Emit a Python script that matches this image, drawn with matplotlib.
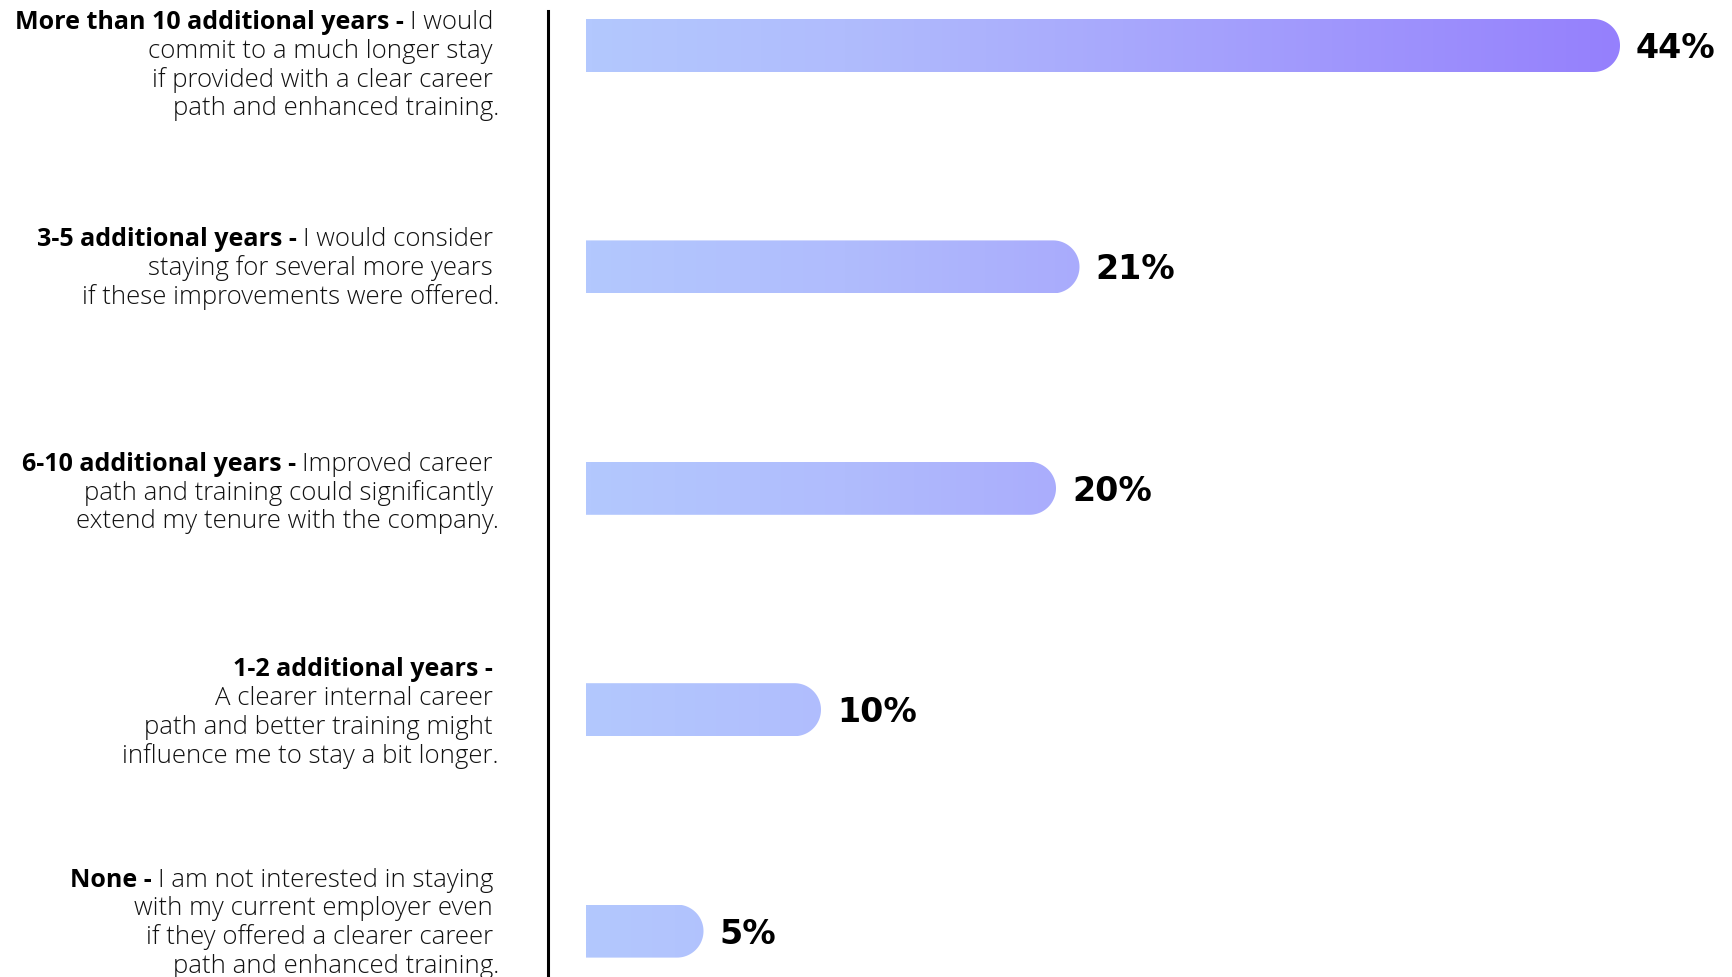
import numpy as np
import matplotlib
matplotlib.use("Agg")
import matplotlib.pyplot as plt
from matplotlib.path import Path
from matplotlib.patches import PathPatch
from matplotlib.colors import LinearSegmentedColormap
from matplotlib import transforms as mtrans

# ---------------- data ----------------
bold_heads = [
    "More than 10 additional years -",
    "3-5 additional years -",
    "6-10 additional years -",
    "1-2 additional years -",
    "None -",
]
first_line_rest = [
    "I would",
    "I would consider",
    "Improved career",
    "",
    "I am not interested in staying",
]
body_lines = [
    ["commit to a much longer stay", "if provided with a clear career", "path and enhanced training."],
    ["staying for several more years", "if these improvements were offered."],
    ["path and training could significantly", "extend my tenure with the company."],
    ["A clearer internal career", "path and better training might", "influence me to stay a bit longer."],
    ["with my current employer even", "if they offered a clearer career", "path and enhanced training."],
]
values = [44, 21, 20, 10, 5]
value_labels = ["44%", "21%", "20%", "10%", "5%"]

# ---------------- layout ----------------
W, H = 1733, 977
fig = plt.figure(figsize=(W / 100, H / 100), dpi=100)
fig.patch.set_facecolor("white")

ax_left_px = 548
top_px = 11
ax = fig.add_axes([ax_left_px / W, 0, (W - ax_left_px) / W, (H - top_px) / H])

px_per_x = 23.5
x0_px = 586
row_px = 221.4
first_center_px = 45.5
bar_h_px = 53

xlim = (-(x0_px - ax_left_px) / px_per_x, (W - x0_px) / px_per_x)
ylim = ((H - first_center_px) / row_px, (top_px - first_center_px) / row_px)

cmap = LinearSegmentedColormap.from_list(
    "grad", [(0.0, "#B3C8FE"), (0.25, "#B0BCFD"), (0.52, "#A8A8FC"), (1.0, "#9580FD")]
)

hh = (bar_h_px / 2) / row_px
rx = (bar_h_px / 2) / px_per_x
vmax = max(values)
for i, v in enumerate(values):
    cx = v - rx
    th = np.linspace(-np.pi / 2, np.pi / 2, 60)
    verts = [(0, i - hh), (cx, i - hh)]
    verts += [(cx + rx * np.cos(t), i + hh * np.sin(t)) for t in th]
    verts += [(cx, i + hh), (0, i + hh), (0, i - hh)]
    codes = [Path.MOVETO] + [Path.LINETO] * (len(verts) - 2) + [Path.CLOSEPOLY]
    patch = PathPatch(Path(verts, codes), transform=ax.transData,
                      facecolor="none", edgecolor="none")
    ax.add_patch(patch)
    grad = np.linspace(0, v / vmax, 256).reshape(1, -1)
    im = ax.imshow(grad, extent=[0, v, i + hh, i - hh], cmap=cmap, vmin=0, vmax=1,
                   aspect="auto", interpolation="bilinear")
    im.set_clip_path(patch)
    lbl_t = mtrans.offset_copy(ax.transData, fig=fig, x=16, y=-3, units="dots")
    ax.text(v, i, value_labels[i], transform=lbl_t, ha="left", va="center",
            fontsize=24, fontweight="bold", family="DejaVu Sans", color="black")

ax.set_xlim(*xlim)
ax.set_ylim(*ylim)
for s in ["top", "right", "bottom"]:
    ax.spines[s].set_visible(False)
ax.spines["left"].set_color("black")
ax.spines["left"].set_linewidth(2.2)
ax.set_xticks([])
ax.set_yticks([])
ax.patch.set_alpha(0)

# left labels
line_h = 28.7
right_mid = 493
right_last = 499
nudges = [20, 1, 5, 3, -8]
fs = 18.5
fs_bold = 18
fam = "Open Sans"
base = mtrans.blended_transform_factory(mtrans.IdentityTransform(), ax.transData)
for i in range(len(values)):
    lines = [None] + body_lines[i]
    n = len(lines)
    for k in range(n):
        off = (k - (n - 1) / 2) * line_h + nudges[i]
        t = mtrans.offset_copy(base, fig=fig, x=0, y=-off, units="dots")
        xr = right_last if k == n - 1 else right_mid
        if k == 0:
            rest = first_line_rest[i]
            if rest:
                r = ax.text(xr, i, rest, transform=t, ha="right", va="center",
                            fontsize=fs, fontweight="light", family=fam,
                            color="#111111", clip_on=False)
                ax.annotate(bold_heads[i], xy=(0, 0.5), xycoords=r,
                            xytext=(-6, 0), textcoords="offset pixels",
                            ha="right", va="center", fontsize=fs_bold, fontweight="bold",
                            family=fam, color="black", annotation_clip=False)
            else:
                ax.text(xr, i, bold_heads[i], transform=t, ha="right", va="center",
                        fontsize=fs_bold, fontweight="bold", family=fam,
                        color="black", clip_on=False)
        else:
            ax.text(xr, i, lines[k], transform=t, ha="right", va="center",
                    fontsize=fs, fontweight="light", family=fam,
                    color="#111111", clip_on=False)

fig.savefig("out.png", dpi=100, facecolor="white")
